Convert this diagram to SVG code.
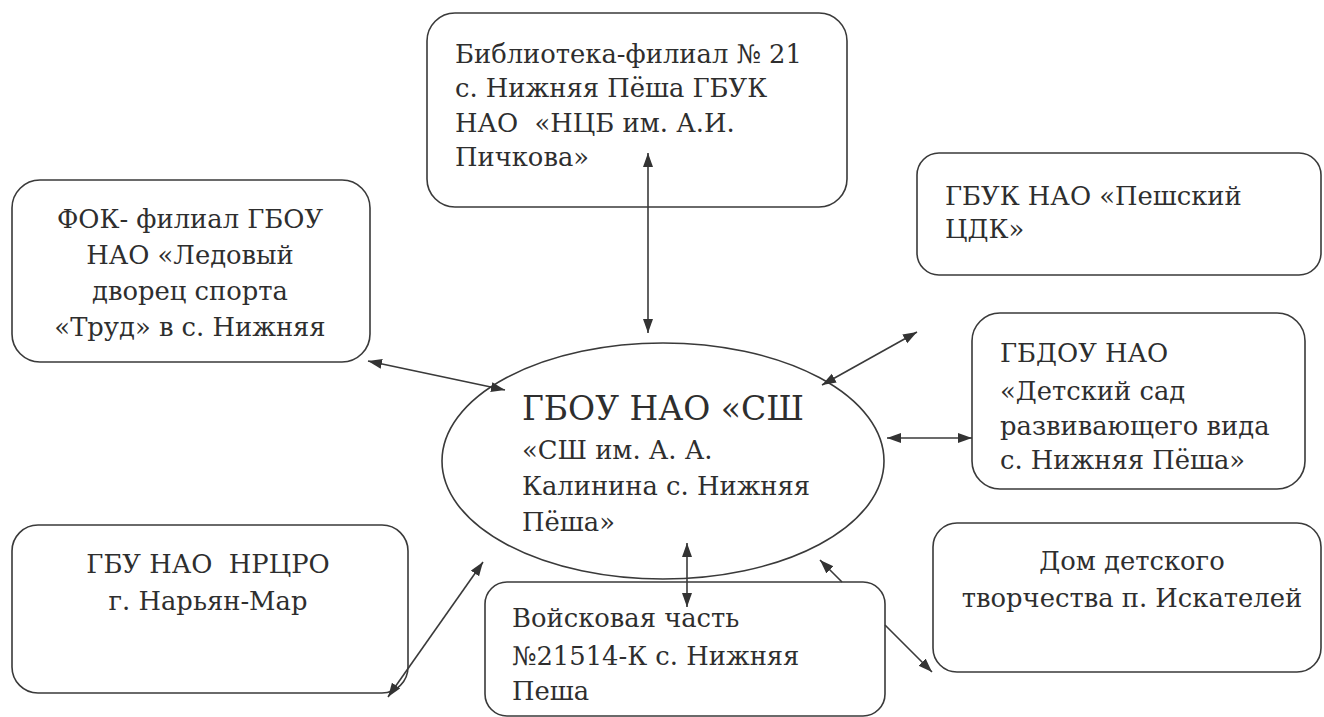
<svg xmlns="http://www.w3.org/2000/svg" width="1324" height="717" viewBox="0 0 1324 717">
<defs>
<marker id="ah" markerUnits="userSpaceOnUse" markerWidth="16" markerHeight="12" refX="14" refY="5" orient="auto-start-reverse">
<path d="M0,0 L14,5 L0,10 z" fill="#333"/>
</marker>
<style>
.box{fill:#fff;stroke:#3a3a3a;stroke-width:1.6}
.t{font-family:'DejaVu Serif',serif;font-size:25.8px;fill:#2e2e2e;white-space:pre}
.c{text-anchor:middle}
.big{font-size:33px}
.con{fill:none;stroke:#3a3a3a;stroke-width:1.6;marker-start:url(#ah);marker-end:url(#ah)}
</style>
</defs>
<rect width="1324" height="717" fill="#fff"/>
<g id="node-center">
<ellipse class="box" cx="663" cy="461" rx="221" ry="118"/>
<text class="t big" x="522" y="420">ГБОУ НАО «СШ</text>
<text class="t" x="522" y="459">«СШ им. А. А.</text>
<text class="t" x="522" y="495">Калинина с. Нижняя</text>
<text class="t" x="522" y="531">Пёша»</text>
</g>
<g id="node-library">
<rect class="box" x="427" y="13" width="420" height="194" rx="28"/>
<text class="t" x="455" y="63">Библиотека-филиал № 21</text>
<text class="t" x="455" y="97">с. Нижняя Пёша ГБУК</text>
<text class="t" x="455" y="132">НАО  «НЦБ им. А.И.</text>
<text class="t" x="455" y="166">Пичкова»</text>
</g>
<g id="node-fok">
<rect class="box" x="12" y="180" width="358" height="182" rx="28"/>
<text class="t c" x="190" y="228">ФОК- филиал ГБОУ</text>
<text class="t c" x="190" y="264">НАО «Ледовый</text>
<text class="t c" x="190" y="300">дворец спорта</text>
<text class="t c" x="190" y="336">«Труд» в с. Нижняя</text>
</g>
<g id="node-cdk">
<rect class="box" x="917" y="153" width="404" height="122" rx="22"/>
<text class="t" x="945" y="205">ГБУК НАО «Пешский</text>
<text class="t" x="945" y="238">ЦДК»</text>
</g>
<g id="node-kindergarten">
<rect class="box" x="972" y="313" width="333" height="176" rx="28"/>
<text class="t" x="1000" y="362">ГБДОУ НАО</text>
<text class="t" x="1000" y="400">«Детский сад</text>
<text class="t" x="1000" y="435">развивающего вида</text>
<text class="t" x="1000" y="469">с. Нижняя Пёша»</text>
</g>
<g id="node-nrcro">
<rect class="box" x="12" y="525" width="396" height="168" rx="26"/>
<text class="t c" x="208" y="573">ГБУ НАО  НРЦРО</text>
<text class="t c" x="208" y="610">г. Нарьян-Мар</text>
</g>
<g id="node-military">
<rect class="box" x="485" y="582" width="400" height="134" rx="22"/>
<text class="t" x="512" y="627">Войсковая часть</text>
<text class="t" x="512" y="665">№21514-К с. Нижняя</text>
<text class="t" x="512" y="700">Пеша</text>
</g>
<g id="node-ddt">
<rect class="box" x="933" y="523" width="388" height="149" rx="24"/>
<text class="t c" x="1132" y="570">Дом детского</text>
<text class="t c" x="1132" y="607">творчества п. Искателей</text>
</g>
<g id="connectors">
<path class="con" d="M648,153 L648,333"/>
<path class="con" d="M368,361 L505,390"/>
<path class="con" d="M822,385 L917,332"/>
<path class="con" d="M887,438 L972,438"/>
<path class="con" d="M483,562 L388,697"/>
<path class="con" d="M687,543 L687,607"/>
<path class="con" d="M820,560 L842,582 M885,625 L932,672"/>
</g>
</svg>
